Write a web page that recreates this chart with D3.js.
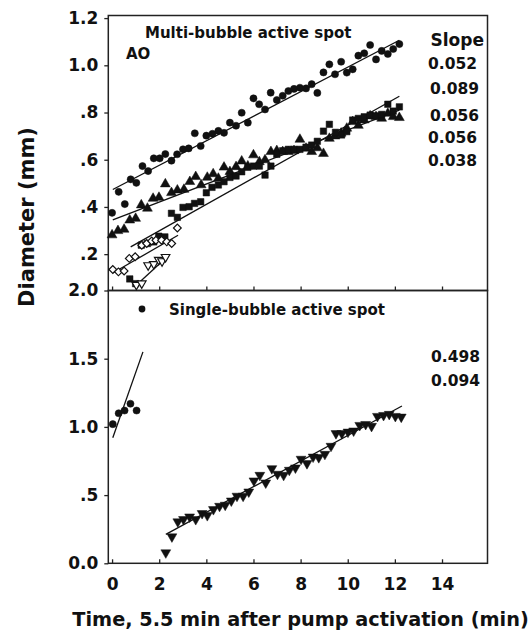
<!DOCTYPE html>
<html>
<head>
<meta charset="utf-8">
<script src="https://cdn.jsdelivr.net/npm/d3@7"></script>
<style>
  body { margin: 0; background: #fff; }
  text { font-family: "DejaVu Sans", Verdana, sans-serif; font-weight: bold; fill: #111; }
</style>
</head>
<body>
<script>
// ---- data (time in min, diameter in mm) ----
const circleT = [0.00, 0.28, 0.54, 0.79, 1.03, 1.29, 1.53, 1.77, 2.02, 2.26, 2.52, 2.76, 3.01, 3.25, 3.51, 3.76, 4.00, 4.26, 4.51, 4.75,
  5.00, 5.26, 5.50, 5.76, 6.00, 6.24, 6.49, 6.73, 6.99, 7.24, 7.48, 7.72, 7.97, 8.23, 8.47, 8.71, 8.97, 9.22, 9.46, 9.72,
  9.96, 10.21, 10.45, 10.70, 10.95, 11.20, 11.44, 11.70, 11.93, 12.19];
const circleD = [0.375, 0.464, 0.412, 0.517, 0.502, 0.573, 0.552, 0.606, 0.606, 0.624, 0.596, 0.623, 0.644, 0.648, 0.712, 0.658, 0.702, 0.710, 0.722, 0.714,
  0.757, 0.744, 0.799, 0.757, 0.860, 0.835, 0.813, 0.884, 0.853, 0.871, 0.891, 0.900, 0.905, 0.902, 0.920, 0.883, 0.970, 1.004, 0.962, 1.015,
  0.969, 0.983, 1.041, 1.051, 1.086, 1.025, 1.061, 1.048, 1.069, 1.090];

const triT = [0.00, 0.25, 0.51, 0.75, 1.00, 1.24, 1.50, 1.74, 1.99, 2.26, 2.52, 2.77, 3.05, 3.30, 3.55, 3.78, 4.04, 4.29, 4.51, 4.75,
  5.00, 5.26, 5.50, 5.76, 6.00, 6.25, 6.49, 6.74, 6.99, 7.24, 7.48, 7.72, 7.97, 8.23, 8.47, 8.71, 8.97, 9.22, 9.46, 9.72,
  9.96, 10.21, 10.45, 10.70, 10.95, 11.20, 11.44, 11.70, 11.93, 12.19];
const triD = [0.281, 0.299, 0.305, 0.344, 0.351, 0.408, 0.394, 0.436, 0.440, 0.497, 0.460, 0.471, 0.474, 0.507, 0.528, 0.493, 0.525, 0.540, 0.521, 0.568,
  0.549, 0.570, 0.594, 0.573, 0.620, 0.591, 0.599, 0.634, 0.638, 0.634, 0.634, 0.638, 0.686, 0.648, 0.634, 0.650, 0.626, 0.690, 0.700, 0.712,
  0.733, 0.761, 0.745, 0.768, 0.785, 0.782, 0.775, 0.796, 0.782, 0.778];

const squareT = [0.75, 1.00, 1.24, 1.50, 1.77, 1.98, 2.24, 2.52, 2.77, 3.01, 3.27, 3.50, 3.76, 4.00, 4.24, 4.51, 4.75, 5.00, 5.26, 5.50,
  5.76, 6.00, 6.25, 6.49, 6.74, 6.99, 7.24, 7.48, 7.72, 7.97, 8.23, 8.47, 8.71, 8.97, 9.22, 9.48, 9.74, 9.96, 10.21, 10.45,
  10.70, 10.95, 11.20, 11.44, 11.70, 11.93, 12.19];
const squareD = [0.095, 0.075, 0.238, 0.245, 0.252, 0.276, 0.273, 0.373, 0.356, 0.398, 0.401, 0.415, 0.422, 0.460, 0.483, 0.493, 0.507, 0.525, 0.531, 0.549,
  0.568, 0.573, 0.573, 0.535, 0.573, 0.623, 0.638, 0.644, 0.644, 0.644, 0.653, 0.662, 0.678, 0.721, 0.750, 0.716, 0.705, 0.719, 0.768, 0.775,
  0.782, 0.789, 0.786, 0.792, 0.835, 0.806, 0.824];

const diamondT = [0.03, 0.27, 0.51, 0.73, 0.98, 1.26, 1.47, 1.68, 1.86, 2.10, 2.32, 2.53, 2.77];
const diamondD = [0.135, 0.125, 0.129, 0.182, 0.189, 0.238, 0.245, 0.256, 0.259, 0.259, 0.252, 0.245, 0.311];

const openDownT = [1.03, 1.26, 1.53, 1.77, 1.98, 2.12, 2.27];
const openDownD = [0.070, 0.076, 0.153, 0.158, 0.176, 0.170, 0.188];

const singleT = [0.03, 0.28, 0.53, 0.78, 1.04];
const singleD = [1.02, 1.10, 1.12, 1.17, 1.12];

const downT = [2.28, 2.54, 2.79, 3.03, 3.29, 3.55, 3.82, 4.04, 4.30, 4.56, 4.80, 5.06, 5.30, 5.56, 5.80, 6.02, 6.27, 6.52, 6.78, 7.02,
  7.28, 7.52, 7.78, 8.02, 8.27, 8.53, 8.77, 9.03, 9.29, 9.50, 9.75, 10.01, 10.25, 10.51, 10.76, 11.01, 11.26, 11.52, 11.76, 12.02, 12.27];
const downD = [0.078, 0.195, 0.305, 0.322, 0.341, 0.322, 0.366, 0.351, 0.395, 0.419, 0.427, 0.458, 0.493, 0.493, 0.524, 0.605, 0.646, 0.590, 0.695, 0.654,
  0.646, 0.683, 0.700, 0.764, 0.732, 0.780, 0.776, 0.800, 0.859, 0.952, 0.952, 0.963, 0.971, 1.012, 1.019, 1.005, 1.078, 1.085, 1.093, 1.078, 1.073];

// fitted lines: [t0, d0, t1, d1]
const topFits = [
  [0.03, 0.474, 12.19, 1.106],
  [0.03, 0.345, 12.19, 0.810],
  [0.79, 0.231, 12.19, 0.869],
  [0.03, 0.120, 2.80, 0.280],
  [1.00, 0.066, 2.35, 0.190]
];
const bottomFits = [
  [0.03, 0.92, 1.31, 1.55],
  [2.28, 0.212, 12.30, 1.153]
];

const topSlopes = ["0.052", "0.089", "0.056", "0.056", "0.038"];
const bottomSlopes = ["0.498", "0.094"];

const xTicks = [0, 2, 4, 6, 8, 10, 12, 14];
const topYTicks = [0.2, 0.4, 0.6, 0.8, 1.0, 1.2];
const topYLabels = [".2", ".4", ".6", ".8", "1.0", "1.2"];
const bottomYTicks = [0, 0.5, 1.0, 1.5, 2.0];
const bottomYLabels = ["0.0", ".5", "1.0", "1.5", "2.0"];

// ---- layout ----
const width = 531, height = 633;
const plotLeft = 108.3, plotRight = 487.5, plotTop = 15.5, plotMid = 290.5, plotBottom = 563.3;

const svg = d3.select("body")
  .append("svg")
  .attr("width", width)
  .attr("height", height);

const x = d3.scaleLinear().domain([-0.16, 15.93]).range([plotLeft, plotRight]);
const yTop = d3.scaleLinear().domain([0.046, 1.211]).range([plotMid, plotTop]);
const yBot = d3.scaleLinear().domain([0, 2]).range([plotBottom, plotMid]);

const zip = (t, d) => t.map((v, i) => ({t: v, d: d[i]}));

function drawAxes(y, ticks, labels, showXLabels, yBottom) {
  const ya = svg.append("g")
    .attr("transform", `translate(${plotLeft},0)`)
    .call(d3.axisLeft(y).tickValues(ticks).tickSize(4).tickPadding(6)
      .tickFormat((d, i) => labels[i]));
  ya.select(".domain").remove();
  ya.selectAll("line").attr("stroke", "#222").attr("stroke-width", 1.3);
  ya.selectAll("text").style("font-size", "17px").attr("fill", "#111")
    .style("font-family", "'DejaVu Sans', sans-serif").style("font-weight", "bold");

  const xa = svg.append("g")
    .attr("transform", `translate(0,${yBottom})`)
    .call(d3.axisBottom(x).tickValues(xTicks).tickSize(-4).tickPadding(15)
      .tickFormat(showXLabels ? d3.format("d") : ""));
  xa.select(".domain").remove();
  xa.selectAll("line").attr("stroke", "#222").attr("stroke-width", 1.3);
  xa.selectAll("text").style("font-size", "17px").attr("fill", "#111")
    .style("font-family", "'DejaVu Sans', sans-serif").style("font-weight", "bold");
}

drawAxes(yTop, topYTicks, topYLabels, false, plotMid);
drawAxes(yBot, bottomYTicks, bottomYLabels, true, plotBottom);

// frames
svg.append("rect")
  .attr("x", plotLeft).attr("y", plotTop)
  .attr("width", plotRight - plotLeft).attr("height", plotMid - plotTop)
  .attr("fill", "none").attr("stroke", "#222").attr("stroke-width", 1.5);
svg.append("rect")
  .attr("x", plotLeft).attr("y", plotMid)
  .attr("width", plotRight - plotLeft).attr("height", plotBottom - plotMid)
  .attr("fill", "none").attr("stroke", "#222").attr("stroke-width", 1.5);

// fitted lines
function drawFits(fits, y) {
  svg.append("g").selectAll("line")
    .data(fits)
    .join("line")
    .attr("x1", d => x(d[0])).attr("y1", d => y(d[1]))
    .attr("x2", d => x(d[2])).attr("y2", d => y(d[3]))
    .attr("stroke", "#111").attr("stroke-width", 1.3);
}
drawFits(topFits, yTop);
drawFits(bottomFits, yBot);

// markers
function drawSeries(data, y, type, size, rotate, filled) {
  svg.append("g").selectAll("path")
    .data(data)
    .join("path")
    .attr("d", d3.symbol().type(type).size(size))
    .attr("transform", d => `translate(${x(d.t)},${y(d.d)}) rotate(${rotate})`)
    .attr("fill", filled ? "#111" : "#fff")
    .attr("stroke", "#111")
    .attr("stroke-width", filled ? 0.5 : 1.2);
}

drawSeries(zip(circleT, circleD), yTop, d3.symbolCircle, 40, 0, true);
drawSeries(zip(triT, triD), yTop, d3.symbolTriangle, 42, 0, true);
drawSeries(zip(squareT, squareD), yTop, d3.symbolSquare, 42, 0, true);
drawSeries(zip(diamondT, diamondD), yTop, d3.symbolSquare, 30, 45, false);
drawSeries(zip(openDownT, openDownD), yTop, d3.symbolTriangle, 32, 180, false);

drawSeries(zip(singleT, singleD), yBot, d3.symbolCircle, 40, 0, true);
drawSeries(zip(downT, downD), yBot, d3.symbolTriangle, 42, 180, true);

// text annotations
svg.append("text").attr("x", 145).attr("y", 37.5).style("font-size", "15px")
  .text("Multi-bubble active spot");
svg.append("text").attr("x", 126).attr("y", 58.5).style("font-size", "15px")
  .text("AO");
svg.append("text").attr("x", 484).attr("y", 46).attr("text-anchor", "end")
  .style("font-size", "17px").text("Slope");

const topSlopeY = [63.3, 88.3, 115, 137.3, 160.7];
svg.append("g").selectAll("text")
  .data(topSlopes)
  .join("text")
  .attr("x", (d, i) => i === 1 || i === 2 ? 479 : 477)
  .attr("y", (d, i) => topSlopeY[i] + 5.6)
  .attr("text-anchor", "end")
  .style("font-size", "15.5px")
  .text(d => d);

const bottomSlopeY = [356.7, 380];
svg.append("g").selectAll("text")
  .data(bottomSlopes)
  .join("text")
  .attr("x", 480)
  .attr("y", (d, i) => bottomSlopeY[i] + 5.6)
  .attr("text-anchor", "end")
  .style("font-size", "15.5px")
  .text(d => d);

svg.append("circle").attr("cx", 142).attr("cy", 309).attr("r", 3.4).attr("fill", "#111");
svg.append("text").attr("x", 169).attr("y", 314.5).style("font-size", "15px")
  .text("Single-bubble active spot");

// axis titles
svg.append("text")
  .attr("x", 300.5).attr("y", 626)
  .attr("text-anchor", "middle")
  .style("font-size", "19.3px")
  .text("Time, 5.5 min after pump activation (min)");

svg.append("text")
  .attr("transform", "translate(34,217) rotate(-90)")
  .attr("text-anchor", "middle")
  .style("font-size", "21px")
  .text("Diameter (mm)");
</script>
</body>
</html>
